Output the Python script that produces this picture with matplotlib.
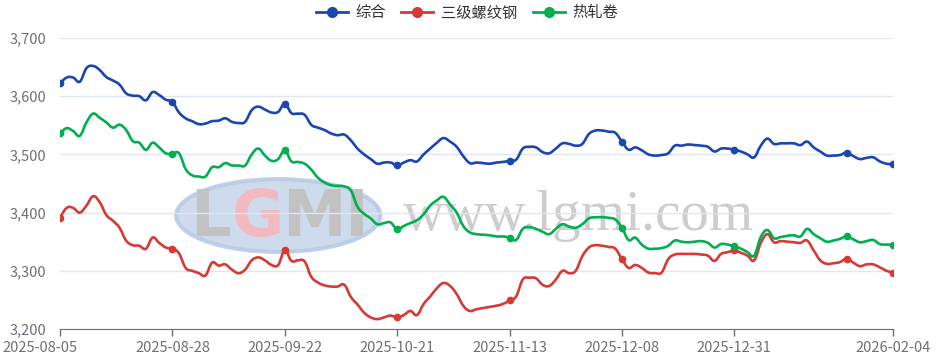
import matplotlib
matplotlib.use("Agg")
import matplotlib.pyplot as plt
import matplotlib.transforms as mtransforms
from matplotlib.patches import Ellipse, PathPatch
from matplotlib.path import Path
from matplotlib.lines import Line2D

plt.rcParams['font.family'] = ['Noto Sans CJK SC', 'DejaVu Sans']

# ---- data -------------------------------------------------------------
tick_labels = ["2025-08-05", "2025-08-28", "2025-09-22", "2025-10-21",
               "2025-11-13", "2025-12-08", "2025-12-31", "2026-02-04"]
label_step = 17          # category interval between the date labels
series_names = ["综合", "三级螺纹钢", "热轧卷"]

composite = [
    3622, 3632, 3632, 3625, 3648, 3652, 3645, 3633, 3627, 3620,
    3605, 3601, 3600, 3593, 3607, 3602, 3594, 3590, 3572, 3562,
    3557, 3552, 3553, 3557, 3558, 3562, 3556, 3554, 3556, 3576,
    3582, 3577, 3572, 3573, 3587, 3571, 3570, 3568, 3551, 3546,
    3542, 3536, 3533, 3534, 3524, 3510, 3500, 3492, 3484, 3486,
    3486, 3481, 3486, 3490, 3488, 3500, 3510, 3520, 3528, 3522,
    3513, 3497, 3485, 3486, 3485, 3484, 3486, 3487, 3489, 3491,
    3510, 3513, 3512, 3504, 3502, 3510, 3519, 3518, 3515, 3518,
    3535, 3541, 3541, 3539, 3537, 3522, 3508, 3512, 3507, 3500,
    3498, 3499, 3502, 3515, 3515, 3517, 3516, 3515, 3513, 3505,
    3510, 3510, 3508, 3505, 3500, 3495, 3515, 3527, 3518, 3519,
    3519, 3519, 3516, 3522, 3512, 3505, 3498, 3498, 3499, 3503,
    3497, 3492, 3494, 3495, 3488, 3484, 3483]

rebar = [
    3391, 3408, 3408, 3400, 3412, 3428, 3418, 3396, 3386, 3374,
    3352, 3344, 3343, 3338, 3357, 3348, 3340, 3338, 3330, 3305,
    3300, 3296, 3292, 3314, 3309, 3311, 3302, 3296, 3302, 3318,
    3323, 3318, 3310, 3310, 3335, 3317, 3318, 3316, 3290, 3280,
    3275, 3273, 3273, 3276, 3255, 3242, 3228, 3220, 3217, 3220,
    3223, 3220, 3224, 3231, 3224, 3243, 3256, 3270, 3279, 3274,
    3260, 3240, 3231, 3234, 3236, 3238, 3240, 3243, 3249, 3256,
    3285, 3288, 3287, 3276, 3274, 3285, 3300, 3296, 3300, 3325,
    3340, 3344, 3343, 3341, 3338, 3320, 3305, 3310, 3305, 3297,
    3296, 3297, 3320, 3328, 3329, 3329, 3329, 3328, 3326, 3317,
    3329, 3332, 3335, 3331, 3326, 3318, 3348, 3363, 3349, 3351,
    3350, 3349, 3348, 3352, 3335, 3318, 3312, 3313, 3315, 3321,
    3314, 3308, 3311, 3311, 3306, 3300, 3297]

hot_rolled = [
    3536, 3545, 3540, 3532, 3555, 3570, 3563, 3555, 3546, 3551,
    3542, 3523, 3520, 3508, 3520, 3512, 3502, 3501, 3502, 3475,
    3464, 3462, 3462, 3478, 3478, 3485, 3481, 3481, 3481, 3500,
    3510, 3498, 3489, 3492, 3507, 3488, 3487, 3484, 3474, 3460,
    3452, 3447, 3446, 3445, 3438, 3410, 3398, 3390, 3380, 3382,
    3383, 3371, 3377, 3382, 3387, 3397, 3412, 3421, 3427, 3414,
    3400, 3377, 3366, 3363, 3362, 3361, 3359, 3359, 3357, 3353,
    3372, 3375, 3372, 3367, 3363, 3372, 3380, 3376, 3374, 3380,
    3390, 3392, 3392, 3391, 3388, 3374, 3353, 3357, 3345, 3338,
    3338, 3339, 3343, 3352, 3350, 3349, 3350, 3351, 3348, 3340,
    3346, 3345, 3342, 3338, 3332, 3326, 3358, 3370, 3356, 3358,
    3360, 3361, 3359, 3372, 3363, 3356, 3350, 3352, 3355, 3359,
    3354, 3349, 3351, 3353, 3346, 3345, 3345]

y_ticks = [3200, 3300, 3400, 3500, 3600, 3700]

colors = ["#1b46b2", "#d53a34", "#00b050"]


def smooth_path(xs, ys, f=0.2):
    """Cubic Bezier path through every data point (line style only)."""
    pts = list(zip(xs, ys))
    m = len(pts)
    verts = [pts[0]]
    codes = [Path.MOVETO]
    for i in range(m - 1):
        p0 = pts[max(i - 1, 0)]
        p1 = pts[i]
        p2 = pts[i + 1]
        p3 = pts[min(i + 2, m - 1)]
        c1 = (p1[0] + f * (p2[0] - p0[0]), p1[1] + f * (p2[1] - p0[1]))
        c2 = (p2[0] - f * (p3[0] - p1[0]), p2[1] - f * (p3[1] - p1[1]))
        verts += [c1, c2, p2]
        codes += [Path.CURVE4] * 3
    return Path(verts, codes)


# ---- figure -----------------------------------------------------------
W, H = 946, 361
fig = plt.figure(figsize=(W / 100, H / 100), dpi=100)
ax = fig.add_axes([60 / W, 1 - 329 / H, (893 - 60) / W, (329 - 38) / H])

n = len(composite)
x = list(range(n))
tick_pos = list(range(0, n - 1, label_step))[:len(tick_labels) - 1] + [n - 1]
mark_idx = list(range(0, n, label_step)) + [n - 1]

# watermark (LGMI logo + site address)
wm = dict(zorder=0.5)
ax.add_patch(Ellipse((0.262, 0.39), 0.245, 0.25, transform=ax.transAxes,
                     facecolor="#c9d8ec", edgecolor="#b8cbe6", lw=3, alpha=0.9, **wm))
for ch, xx, col in [("L", 0.18, "#c2c2c2"), ("G", 0.238, "#f3b9c0"),
                    ("M", 0.305, "#c2c2c2"), ("I", 0.355, "#c2c2c2")]:
    ax.text(xx, 0.38, ch, transform=ax.transAxes, fontsize=46, fontweight="bold",
            color=col, ha="center", va="center", family="DejaVu Sans", **wm)
ax.text(0.622, 0.39, "www.lgmi.com", transform=ax.transAxes, fontsize=41,
        color="#cdcdcd", ha="center", va="center", family="Liberation Serif", **wm)

for vals, c in zip([composite, rebar, hot_rolled], colors):
    ax.add_patch(PathPatch(smooth_path(x, vals), facecolor="none", edgecolor=c,
                           lw=1.9, capstyle="round", joinstyle="round", zorder=3))
    ax.plot(x, vals, linestyle="none", color=c, marker="o", markersize=4.5,
            markevery=mark_idx, zorder=4)

ax.set_xlim(0, n - 1)
ax.set_ylim(y_ticks[0], y_ticks[-1])
ax.set_yticks(y_ticks)
ax.set_yticklabels([f"{v:,}" for v in y_ticks])
ax.set_xticks(tick_pos)
ax.set_xticklabels(tick_labels)
ax.grid(axis="y", color="#e0e6f1", lw=1)
ax.set_axisbelow(True)
for s in ["top", "right", "left"]:
    ax.spines[s].set_visible(False)
ax.spines["bottom"].set_color("#6e7079")
ax.tick_params(axis="y", length=0, pad=10, labelsize=10.5, labelcolor="#6e7079")
ax.tick_params(axis="x", length=5, width=1, color="#6e7079", pad=4,
               labelsize=10.5, labelcolor="#6e7079")
labs = ax.get_xticklabels()
labs[0].set_ha("left")
labs[0].set_transform(labs[0].get_transform() +
                      mtransforms.ScaledTranslation(-58 / 100, 0, fig.dpi_scale_trans))

handles = [Line2D([0], [0], color=c, lw=2, marker="o", markersize=7)
           for c in colors]
fig.legend(handles, series_names, loc="center", bbox_to_anchor=(467 / W, 1 - 13 / H),
           ncol=3, frameon=False, fontsize=11, handlelength=2.1,
           columnspacing=1.0, handletextpad=0.5, labelcolor="#333333",
           borderpad=0, borderaxespad=0)

fig.savefig("out.png", dpi=100)
